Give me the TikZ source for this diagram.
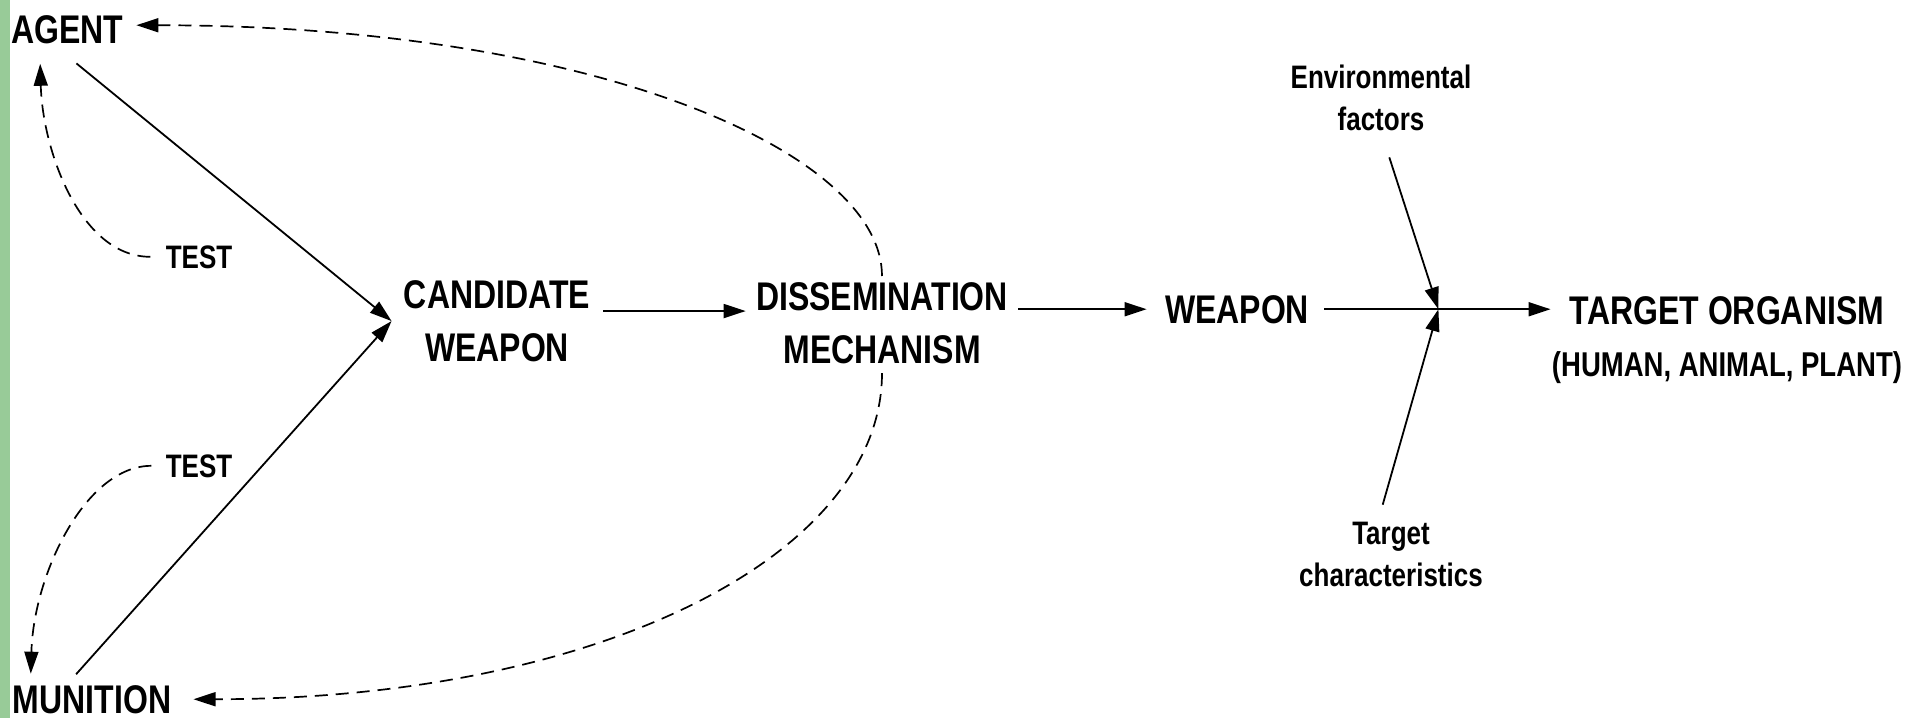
\documentclass[tikz,border=0pt]{standalone}
\usepackage{fontspec}
\newfontfamily\diagfont{Liberation Sans}[FakeStretch=0.8]
\usepackage{xcolor}
\definecolor{stripgreen}{RGB}{152, 203, 152}
\usetikzlibrary{arrows.meta, positioning}

\begin{document}
\begin{tikzpicture}[x=0.5pt, y=-0.5pt, > = {Triangle[length=11pt, width=7pt]},
	stage/.style={font=\diagfont\bfseries\fontsize{20pt}{26.5pt}\selectfont, inner sep=0pt, align=center},
	remark/.style={font=\diagfont\bfseries\fontsize{16.25pt}{21pt}\selectfont, inner sep=0pt, align=center},
	flow/.style={->, line width=0.9pt},
	feedback/.style={->, line width=0.85pt, dash pattern=on 6.5pt off 4pt}]
			\useasboundingbox (0,0) rectangle (1911,718);
			\fill [stripgreen] (0,0) rectangle (10,718);
			
			\node [stage, anchor=base] (agent) at (67,43) {AGENT};
			\node [stage, anchor=base] (munition) at (92,713) {MUNITION};
			\node [remark, anchor=base] (testa) at (199,268) {TEST};
			\node [remark, anchor=base] (testm) at (199,477) {TEST};
			\node [stage, anchor=north] (candidate) at (497,280) {CANDIDATE\\WEAPON};
			\node [stage, anchor=north] (dissem) at (882,282) {DISSEMINATION\\MECHANISM};
			\node [stage, anchor=base] (weapon) at (1237,323) {WEAPON};
			\node [stage, anchor=base] (target) at (1727,324) {TARGET ORGANISM};
			\node [remark, font=\diagfont\bfseries\fontsize{17.2pt}{21pt}\selectfont, below=13pt of target] (hosts) {(HUMAN, ANIMAL, PLANT)};
			\node [remark, anchor=north] (envir) at (1381,65) {Environmental\\factors};
			\node [remark, anchor=north] (traits) at (1391,522) {Target\\characteristics};
			
			\coordinate (merge) at ([xshift=-6pt]candidate.west);
			\coordinate (hit) at ([xshift=64.5pt]weapon.east);
			
			\draw [flow, shorten <=15.5pt] (agent.-135) -- (merge);
			\draw [flow, shorten <=7pt] (munition.150) -- (merge);
			\draw [flow, shorten <=6.5pt, shorten >=5pt] ([yshift=5pt]candidate.east) -- ([yshift=5pt]candidate.east -| dissem.west);
			\draw [flow, shorten <=5pt, shorten >=9pt] (dissem.east |- weapon) -- (weapon.west);
			\draw [flow, shorten <=7.5pt, shorten >=9.5pt] (weapon.east) -- (weapon.east -| target.west);
			\draw [flow, shorten <=13.5pt] (envir.south) -- (hit);
			\draw [flow, shorten <=9pt] (traits.112) -- (hit);
			
			\draw [feedback, shorten <=7.5pt, shorten >=10pt] (testa.west) .. controls +(-85,0) and +(3,107) .. ([xshift=14.5pt]agent.south west);
			\draw [feedback, shorten <=7pt, shorten >=5.5pt] (testm.west) .. controls +(-80,0) and +(3,-110) .. ([xshift=9pt]munition.north west);
			\draw [feedback, shorten <=3pt, shorten >=6.5pt] (dissem.north) .. controls +(0,-130) and +(470,0) .. ([yshift=2pt]agent.east);
			\draw [feedback, shorten <=4.5pt, shorten >=11pt] (dissem.south) .. controls +(0,190) and +(430,0) .. (munition.east);
		\end{tikzpicture}
\end{document}
